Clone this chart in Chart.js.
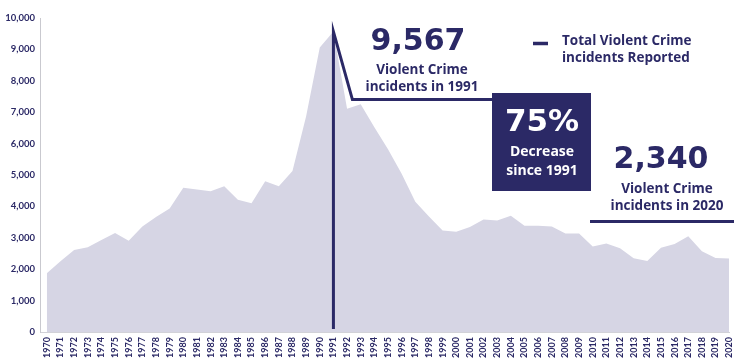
<!DOCTYPE html>
<html>
<head>
<meta charset="utf-8">
<script src="https://cdn.jsdelivr.net/npm/chart.js@4.4.0/dist/chart.umd.min.js"></script>
<style>
  html, body { margin: 0; padding: 0; background: #fff; overflow: hidden; }
  #wrap { width: 745px; height: 361px; position: relative; }
</style>
</head>
<body>
<div id="wrap"><canvas id="myChart"></canvas></div>
<script>
const years = [
  1970, 1971, 1972, 1973, 1974, 1975, 1976, 1977, 1978, 1979,
  1980, 1981, 1982, 1983, 1984, 1985, 1986, 1987, 1988, 1989,
  1990, 1991, 1992, 1993, 1994, 1995, 1996, 1997, 1998, 1999,
  2000, 2001, 2002, 2003, 2004, 2005, 2006, 2007, 2008, 2009,
  2010, 2011, 2012, 2013, 2014, 2015, 2016, 2017, 2018, 2019,
  2020
];

const incidents = [
  1870, 2250, 2610, 2700, 2930, 3150, 2910, 3360, 3660, 3930,
  4590, 4540, 4480, 4640, 4210, 4100, 4800, 4640, 5130, 6870,
  9060, 9567, 7110, 7250, 6520, 5820, 5040, 4150, 3680, 3230,
  3190, 3340, 3580, 3550, 3700, 3380, 3380, 3360, 3140, 3140,
  2720, 2820, 2670, 2350, 2260, 2680, 2800, 3050, 2570, 2360,
  2340
];

const yMax = 10000;
const yStep = 1000;

const navy = '#2b2966';
const fillColor = '#d6d5e4';

// text + callout lines drawn on top of the area
const calloutPlugin = {
  id: 'callouts',
  afterDatasetsDraw(chart) {
    const { ctx, scales: { x, y } } = chart;
    const px = x.getPixelForValue(1991);
    const peakY = y.getPixelForValue(9567);
    const baseY = y.getPixelForValue(0);

    ctx.save();
    ctx.strokeStyle = navy;
    ctx.lineWidth = 3;
    ctx.lineCap = 'butt';
    ctx.lineJoin = 'miter';

    // 1991 peak callout
    ctx.beginPath();
    ctx.moveTo(px, baseY - 3);
    ctx.lineTo(px, peakY);
    ctx.lineTo(px + 19, peakY + 68);
    ctx.lineTo(493, peakY + 68);
    ctx.stroke();

    // 2020 underline
    ctx.beginPath();
    ctx.moveTo(590, 221.5);
    ctx.lineTo(745, 221.5);
    ctx.stroke();

    // legend dash
    ctx.beginPath();
    ctx.moveTo(533, 43.5);
    ctx.lineTo(548, 43.5);
    ctx.lineWidth = 3.5;
    ctx.stroke();

    // 75% box
    ctx.fillStyle = navy;
    ctx.fillRect(492, 93, 99, 98);

    const big = 'bold 30px "DejaVu Sans"';
    const small = 'bold 13.5px "Open Sans"';

    ctx.textAlign = 'center';
    ctx.textBaseline = 'alphabetic';

    ctx.fillStyle = navy;
    ctx.font = big;
    ctx.fillText('9,567', 418, 50);
    ctx.fillText('2,340', 661, 168);

    ctx.font = small;
    ctx.fillText('Violent Crime', 422, 74);
    ctx.fillText('incidents in 1991', 422, 91);
    ctx.fillText('Violent Crime', 667, 193);
    ctx.fillText('incidents in 2020', 667, 210);

    ctx.textAlign = 'left';
    ctx.fillText('Total Violent Crime', 562, 45);
    ctx.fillText('incidents Reported', 562, 62);

    ctx.fillStyle = '#ffffff';
    ctx.textAlign = 'center';
    ctx.font = 'bold 31px "DejaVu Sans"';
    ctx.fillText('75%', 542, 131);
    ctx.font = 'bold 14px "Open Sans"';
    ctx.fillText('Decrease', 542, 156);
    ctx.fillText('since 1991', 542, 175);

    ctx.restore();
  }
};

const myChart = new Chart(document.getElementById('myChart'), {
  type: 'line',
  data: {
    datasets: [
      {
        label: 'Total Violent Crime incidents Reported',
        data: years.map((yr, i) => ({ x: yr, y: incidents[i] })),
        fill: 'origin',
        backgroundColor: fillColor,
        borderWidth: 0,
        pointRadius: 0,
        tension: 0,
      },
    ],
  },
  options: {
    responsive: true,
    maintainAspectRatio: false,
    animation: false,
    layout: { padding: { top: 18, right: 0, left: 0, bottom: 0 } },
    plugins: {
      legend: { display: false },
      tooltip: { enabled: false },
    },
    scales: {
      x: {
        type: 'linear',
        min: 1969.5,
        max: 2020,
        grid: { display: false, drawTicks: false },
        border: { color: '#d2d2d8', width: 1 },
        afterFit: (s) => { s.height = 29; },
        ticks: {
          stepSize: 1,
          includeBounds: false,
          autoSkip: false,
          maxRotation: 90,
          minRotation: 90,
          padding: 5,
          color: navy,
          font: { family: 'Lato', size: 9, weight: 'bold' },
          callback: (v) => String(v),
        },
      },
      y: {
        min: 0,
        max: yMax,
        grid: { display: false, drawTicks: false },
        border: { color: '#c9c9cf', width: 1 },
        afterFit: (s) => { s.width = 40; },
        ticks: {
          stepSize: yStep,
          padding: 5,
          color: navy,
          font: { family: 'Lato', size: 9.5, weight: 'bold' },
          callback: (v) => v.toLocaleString('en-US'),
        },
      },
    },
  },
  plugins: [calloutPlugin],
});
</script>
</body>
</html>
